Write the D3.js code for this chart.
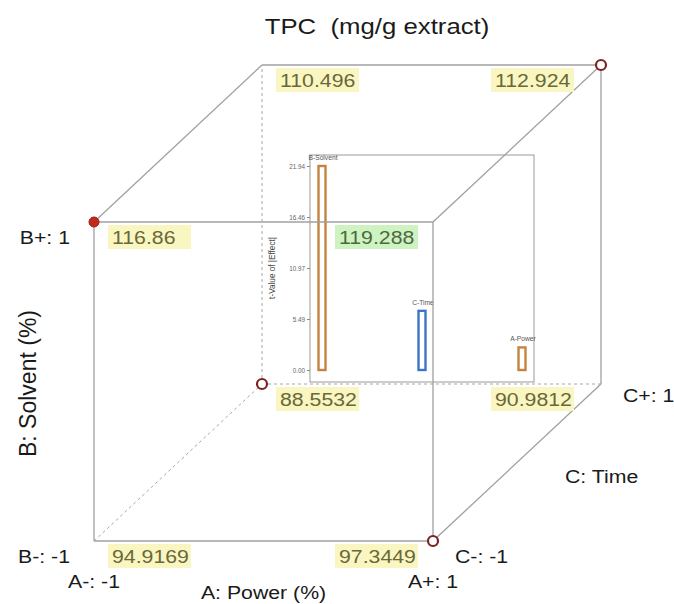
<!DOCTYPE html>
<html>
<head>
<meta charset="utf-8">
<script src="https://cdn.jsdelivr.net/npm/d3@7/dist/d3.min.js"></script>
<style>
  html, body { margin: 0; padding: 0; background: #fff; }
  svg { display: block; font-family: "Liberation Sans", Arial, Helvetica, sans-serif; }
</style>
</head>
<body>
<svg id="chart" width="674" height="604"></svg>
<script>
// ---- Data -------------------------------------------------------------
const chartTitle = "TPC  (mg/g extract)";
const factorNames = ["A: Power (%)", "B: Solvent (%)", "C: Time"];

// Coded factor levels for the eight corners of the cube and the response there
const levelA = [-1,  1, -1,  1, -1,  1, -1,  1];
const levelB = [-1, -1,  1,  1, -1, -1,  1,  1];
const levelC = [-1, -1, -1, -1,  1,  1,  1,  1];
const tpcValues = [94.9169, 97.3449, 116.86, 119.288, 88.5532, 90.9812, 110.496, 112.924];
// Marker drawn at each corner: "" none, "open" design point, "filled" selected point
const cornerMarker = ["", "open", "filled", "", "open", "", "", "open"];

// Pareto inset: t-values of the effects
const effectTerms = ["B-Solvent", "C-Time", "A-Power"];
const effectTValues = [21.94, 6.364, 2.428];
const effectSign = ["+", "-", "+"];
const tTickValues = [0, 5.485, 10.97, 16.455, 21.94];
const tTickLabels = ["0.00", "5.49", "10.97", "16.46", "21.94"];

// ---- Layout -----------------------------------------------------------
const svg = d3.select("#chart");
const x = d3.scaleLinear().domain([-1, 1]).range([94, 433]);
const y = d3.scaleLinear().domain([-1, 1]).range([541, 222]);
const depth = d3.scaleLinear().domain([-1, 1]).range([0, 1]);
const depthVec = [168, -157];

function project(a, b, c) {
  const t = depth(c);
  return [x(a) + t * depthVec[0], y(b) + t * depthVec[1]];
}

// text in the cube annotations is slightly wide-set
const STRETCH = 1.12;
function wideText(g, px, py, str, size, anchor) {
  return g.append("text")
    .attr("transform", `translate(${px},${py}) scale(${STRETCH},1)`)
    .attr("text-anchor", anchor || "start")
    .attr("font-size", size)
    .text(str);
}

const lineColor = "#a0a0a0";
const posColor = "#c4843f";
const negColor = "#3d74c6";

// ---- Pareto inset (drawn beneath the cube edges) ------------------------
const inset = { left: 310, right: 534, top: 155, bottom: 382 };
const tY = d3.scaleLinear().domain([0, 21.94]).range([370, 166]);
const termX = d3.scalePoint().domain(effectTerms).range([inset.left, inset.right]).padding(0.12);

const gInset = svg.append("g").attr("class", "pareto");
gInset.append("rect")
  .attr("x", inset.left).attr("y", inset.top)
  .attr("width", inset.right - inset.left).attr("height", inset.bottom - inset.top)
  .attr("fill", "#fff").attr("stroke", "#9a9a9a").attr("stroke-width", 1);

const tAxis = d3.axisLeft(tY)
  .tickValues(tTickValues)
  .tickFormat((d, i) => tTickLabels[i])
  .tickSize(3).tickPadding(2);
const gAxis = gInset.append("g").attr("transform", `translate(${inset.left},0)`).call(tAxis);
gAxis.select(".domain").remove();
gAxis.selectAll("line").attr("stroke", "#888");
gAxis.selectAll("text").attr("font-size", 6.3).attr("fill", "#666").attr("font-family", "Liberation Sans, Arial, sans-serif");

gInset.append("text")
  .attr("transform", `translate(275,${(tY(0) + tY(21.94)) / 2}) rotate(-90)`)
  .attr("text-anchor", "middle")
  .attr("font-size", 8.2).attr("fill", "#444")
  .text("t-Value of |Effect|");

const barW = 7;
effectTerms.forEach((term, i) => {
  const cx = termX(term);
  const v = effectTValues[i];
  gInset.append("rect")
    .attr("x", cx - barW / 2).attr("y", tY(v))
    .attr("width", barW).attr("height", tY(0) - tY(v))
    .attr("fill", "#fff")
    .attr("stroke", effectSign[i] === "+" ? posColor : negColor)
    .attr("stroke-width", 2.4);
  gInset.append("text")
    .attr("x", cx + 1).attr("y", tY(v) - 6)
    .attr("text-anchor", "middle")
    .attr("font-size", 6.7).attr("fill", "#555")
    .text(term);
});

// ---- Cube edges ---------------------------------------------------------
const edges = [];
for (let i = 0; i < 8; i++) {
  for (let j = i + 1; j < 8; j++) {
    const diff = (levelA[i] !== levelA[j]) + (levelB[i] !== levelB[j]) + (levelC[i] !== levelC[j]);
    if (diff === 1) edges.push([i, j]);
  }
}
// the corner hidden behind the cube is (A-, B-, C+)
const hidden = levelA.map((a, i) => a === -1 && levelB[i] === -1 && levelC[i] === 1);

const gEdges = svg.append("g").attr("class", "edges");
edges.forEach(([i, j]) => {
  const p = project(levelA[i], levelB[i], levelC[i]);
  const q = project(levelA[j], levelB[j], levelC[j]);
  const dashed = hidden[i] || hidden[j];
  gEdges.append("line")
    .attr("x1", p[0]).attr("y1", p[1]).attr("x2", q[0]).attr("y2", q[1])
    .attr("stroke", dashed ? "#a8a8a8" : lineColor)
    .attr("stroke-width", dashed ? 1 : 1.3)
    .attr("stroke-dasharray", dashed ? "3,3" : null);
});

// ---- Corner values ------------------------------------------------------
const maxVal = d3.max(tpcValues);
const gVals = svg.append("g").attr("class", "values");
tpcValues.forEach((v, i) => {
  const [px, py] = project(levelA[i], levelB[i], levelC[i]);
  const boxW = 83, boxH = 24;
  let bx;
  if (levelA[i] === -1) bx = px + 14;
  else bx = px - (levelC[i] === 1 ? 27 : 15) - boxW;
  const by = py + 3;
  const isMax = v === maxVal;
  gVals.append("rect")
    .attr("x", bx).attr("y", by).attr("width", boxW).attr("height", boxH)
    .attr("fill", isMax ? "#cff3c0" : "#f9f6c1");
  wideText(gVals, bx + 4, by + 19, String(v), 19)
    .attr("fill", isMax ? "#4c6a40" : "#6a6838");
});

// ---- Corner markers -----------------------------------------------------
const gMarks = svg.append("g").attr("class", "markers");
cornerMarker.forEach((m, i) => {
  if (!m) return;
  const [px, py] = project(levelA[i], levelB[i], levelC[i]);
  gMarks.append("circle")
    .attr("cx", px).attr("cy", py).attr("r", 5)
    .attr("fill", m === "filled" ? "#c3291d" : "#fff")
    .attr("stroke", m === "filled" ? "#9b1f16" : "#7b2322")
    .attr("stroke-width", m === "filled" ? 1 : 2.2);
});

// ---- Factor labels ------------------------------------------------------
const gLab = svg.append("g").attr("class", "labels").attr("fill", "#1a1a1a");
const lvl = v => (v > 0 ? "+: 1" : "-: -1");

// B levels to the left of the front face
[1, -1].forEach(b => {
  const [px, py] = project(-1, b, -1);
  wideText(gLab, px - 24, py + 22, "B" + lvl(b), 19, "end");
});
// A levels under the front face
[-1, 1].forEach(a => {
  const [px, py] = project(a, -1, -1);
  wideText(gLab, px, py + 47, "A" + lvl(a), 19, "middle");
});
// C levels to the right of the bottom-right depth edge
[-1, 1].forEach(c => {
  const [px, py] = project(1, -1, c);
  wideText(gLab, px + 22, py + (c < 0 ? 22 : 18), "C" + lvl(c), 19, "start");
});

// factor names
const a0 = project(-1, -1, -1), a1 = project(1, -1, -1);
wideText(gLab, (a0[0] + a1[0]) / 2, a0[1] + 58, factorNames[0], 19, "middle");

const b0 = project(-1, -1, -1), b1 = project(-1, 1, -1);
gLab.append("text")
  .attr("transform", `translate(36,${(b0[1] + b1[1]) / 2 + 2}) rotate(-90)`)
  .attr("text-anchor", "middle").attr("font-size", 23)
  .text(factorNames[1]);

const c0 = project(1, -1, -1), c1 = project(1, -1, 1);
wideText(gLab, (c0[0] + c1[0]) / 2 + 48, (c0[1] + c1[1]) / 2 + 20, factorNames[2], 19, "start");

// ---- Title --------------------------------------------------------------
wideText(svg, 377, 34, chartTitle, 23, "middle")
  .attr("fill", "#1a1a1a")
  .style("white-space", "pre");
</script>
</body>
</html>
